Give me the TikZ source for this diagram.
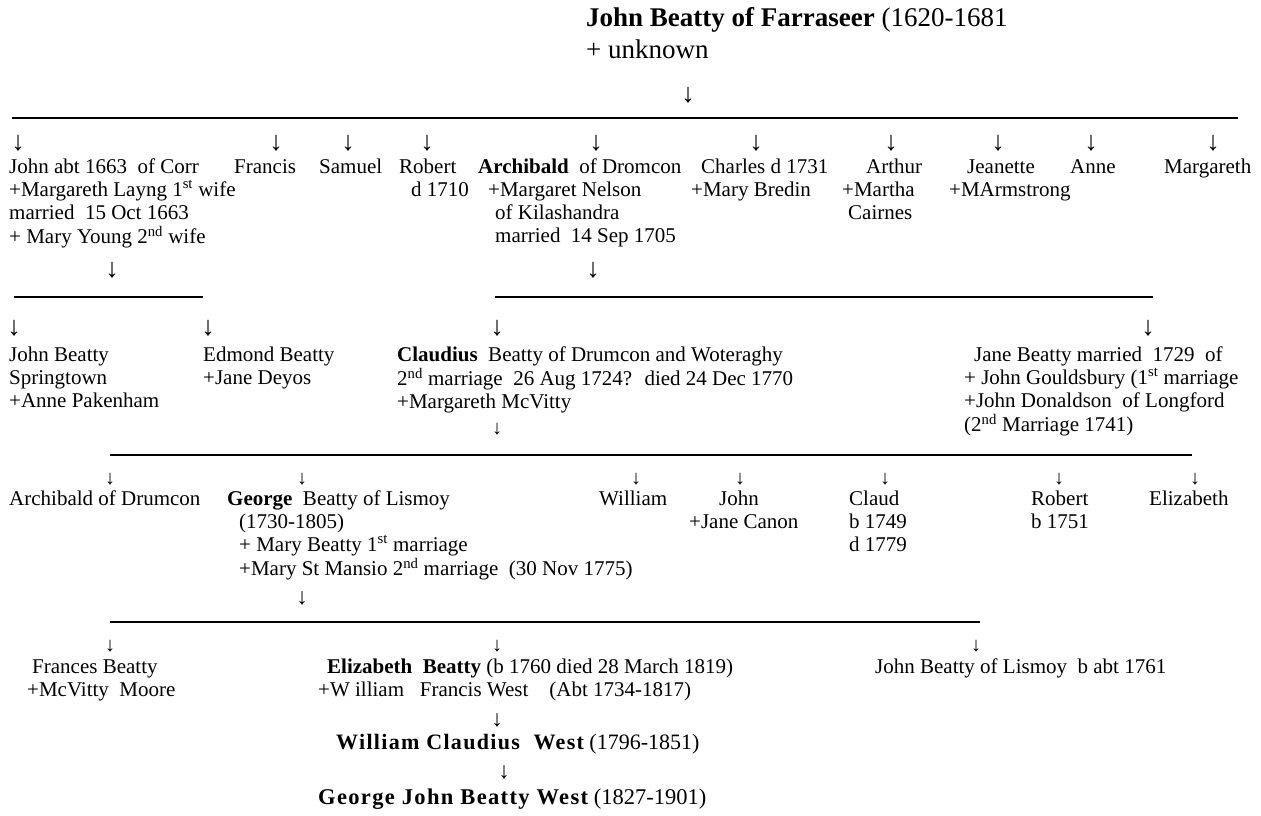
\documentclass[tikz,border=0pt]{standalone}
\usepackage{fontspec}
\setmainfont{Liberation Serif}
\newfontfamily\widefont[LetterSpace=6]{Liberation Serif}
\usepackage{tikz}
\usetikzlibrary{positioning}
\newcommand{\famlines}[1]{\begin{tabular}[t]{@{}l@{}}#1\end{tabular}}

\begin{document}
\begin{tikzpicture}[
    x=1pt, y=-1pt,
    person/.style={anchor=base west, inner sep=0pt, font=\fontsize{21}{23}\selectfont},
    bigdown/.style={inner sep=0pt, font=\fontsize{27}{27}\selectfont},
    middown/.style={inner sep=0pt, font=\fontsize{23}{23}\selectfont},
    smalldown/.style={inner sep=0pt, font=\fontsize{20}{20}\selectfont},
    bar/.style={line width=1.6pt}
]
\fill[white] (0,0) rectangle (1261,816);
\useasboundingbox (0,0) rectangle (1261,816);

% Founder
\node[person, font=\fontsize{27}{32}\selectfont] (founder) at (586,27) {\famlines{\textbf{John Beatty of Farraseer} (1620-1681\\+ unknown}};
\node[bigdown] (d-founder) at (688,95) {↓};

% First generation
\coordinate (bar0w) at (12,118);
\coordinate (bar0e) at (1238,118);
\draw[bar, line width=2.4pt] (bar0w) -- (bar0e);

\node[bigdown] (d-john) at (18,143) {↓};
\node[bigdown] (d-francis) at (276,143) {↓};
\node[bigdown] (d-samuel) at (348,143) {↓};
\node[bigdown] (d-robert) at (427,143) {↓};
\node[bigdown] (d-archibald) at (596,143) {↓};
\node[bigdown] (d-charles) at (756,143) {↓};
\node[bigdown] (d-arthur) at (891,143) {↓};
\node[bigdown] (d-jeanette) at (998,143) {↓};
\node[bigdown] (d-anne) at (1091,143) {↓};
\node[bigdown] (d-margareth) at (1213,143) {↓};

\node[person] (john) at (9,173) {\famlines{John abt 1663 ~of Corr\\+Margareth Layng 1\textsuperscript{st} wife\\married ~15 Oct 1663\\+ Mary Young 2\textsuperscript{nd} wife}};
\node[person] (francis) at (234,173) {Francis};
\node[person] (samuel) at (319,173) {Samuel};
\node[person] (robert) at (399,173) {\famlines{Robert\\\hspace*{12pt}d 1710}};
\node[person] (archibald) at (478,173) {\famlines{\textbf{Archibald} ~of Dromcon\\\hspace*{10pt}+Margaret Nelson\\\hspace*{17pt}of Kilashandra\\\hspace*{17pt}married ~14 Sep 1705}};
\node[person] (charles) at (691,173) {\famlines{\hspace*{10pt}Charles d 1731\\+Mary Bredin}};
\node[person] (arthur) at (842,173) {\famlines{\hspace*{24pt}Arthur\\+Martha\\\hspace*{6pt}Cairnes}};
\node[person] (jeanette) at (949,173) {\famlines{\hspace*{18pt}Jeanette\\+MArmstrong}};
\node[person] (anne) at (1070,173) {Anne};
\node[person] (margareth) at (1164,173) {Margareth};

% Second generation
\node[bigdown] (d-john-kids) at (112,270) {↓};
\node[bigdown] (d-archibald-kids) at (593,270) {↓};

\coordinate (bar1w) at (14,297);
\coordinate (bar1e) at (203,297);
\draw[bar] (bar1w) -- (bar1e);
\coordinate (bar2w) at (495,297);
\coordinate (bar2e) at (1153,297);
\draw[bar] (bar2w) -- (bar2e);

\node[bigdown] (d-johnb) at (14,328) {↓};
\node[bigdown] (d-edmond) at (208,328) {↓};
\node[bigdown] (d-claudius) at (497,328) {↓};
\node[bigdown] (d-jane) at (1148,328) {↓};

\node[person] (johnb) at (9,361) {\famlines{John Beatty\\Springtown\\+Anne Pakenham}};
\node[person] (edmond) at (203,361) {\famlines{Edmond Beatty\\+Jane Deyos}};
\node[person] (claudius) at (397,361) {\famlines{\textbf{Claudius} ~Beatty of Drumcon and Woteraghy\\2\textsuperscript{nd} marriage ~26 Aug 1724? ~died 24 Dec 1770\\+Margareth McVitty}};
\node[person] (jane) at (964,361) {\famlines{\hspace*{10pt}Jane Beatty married ~1729 ~of\\+ John Gouldsbury (1\textsuperscript{st} marriage\\+John Donaldson ~of Longford\\(2\textsuperscript{nd} Marriage 1741)}};

% Third generation
\node[smalldown] (d-claudius-kids) at (497,429) {↓};
\coordinate (bar3w) at (110,455);
\coordinate (bar3e) at (1192,455);
\draw[bar] (bar3w) -- (bar3e);

\node[smalldown] (d-archibaldd) at (110,479) {↓};
\node[smalldown] (d-george) at (302,479) {↓};
\node[smalldown] (d-william) at (636,479) {↓};
\node[smalldown] (d-johnc) at (740,479) {↓};
\node[smalldown] (d-claud) at (885,479) {↓};
\node[smalldown] (d-robertb) at (1059,479) {↓};
\node[smalldown] (d-elizabethb) at (1195,479) {↓};

\node[person] (archibaldd) at (9,505) {Archibald of Drumcon};
\node[person] (george) at (227,505) {\famlines{\textbf{George} ~Beatty of Lismoy\\\hspace*{12pt}(1730-1805)\\\hspace*{12pt}+ Mary Beatty 1\textsuperscript{st} marriage\\\hspace*{12pt}+Mary St Mansio 2\textsuperscript{nd} marriage ~(30 Nov 1775)}};
\node[person] (william) at (599,505) {William};
\node[person] (johnc) at (689,505) {\famlines{\hspace*{30pt}John\\+Jane Canon}};
\node[person] (claud) at (849,505) {\famlines{Claud\\b 1749\\d 1779}};
\node[person] (robertb) at (1031,505) {\famlines{Robert\\b 1751}};
\node[person] (elizabethb) at (1149,505) {Elizabeth};

% Fourth generation
\node[middown] (d-george-kids) at (302,598) {↓};
\coordinate (bar4w) at (110,622);
\coordinate (bar4e) at (980,622);
\draw[bar] (bar4w) -- (bar4e);

\node[smalldown] (d-frances) at (110,646) {↓};
\node[smalldown] (d-elizabeth) at (497,646) {↓};
\node[smalldown] (d-johnl) at (976,646) {↓};

\node[person] (frances) at (27,673) {\famlines{\hspace*{5pt}Frances Beatty\\+McVitty ~Moore}};
\node[person] (elizabeth) at (318,673) {\famlines{\hspace*{9pt}\textbf{Elizabeth ~Beatty} (b 1760 died 28 March 1819)\\+W illiam ~~Francis West ~~~(Abt 1734-1817)}};
\node[person] (johnl) at (875,673) {John Beatty of Lismoy ~b abt 1761};

% Line down to George John Beatty West
\node[middown] (d-wcw) at (497,720) {↓};
\node[person, font=\fontsize{22}{23}\selectfont] (wcw) at (336,749) {{\widefont\bfseries William Claudius ~West} (1796-1851)};
\node[middown] (d-gjbw) at (504,772) {↓};
\node[person, font=\fontsize{22.5}{25}\selectfont] (gjbw) at (318,804) {{\widefont\bfseries George John Beatty West} (1827-1901)};

\end{tikzpicture}
\end{document}
